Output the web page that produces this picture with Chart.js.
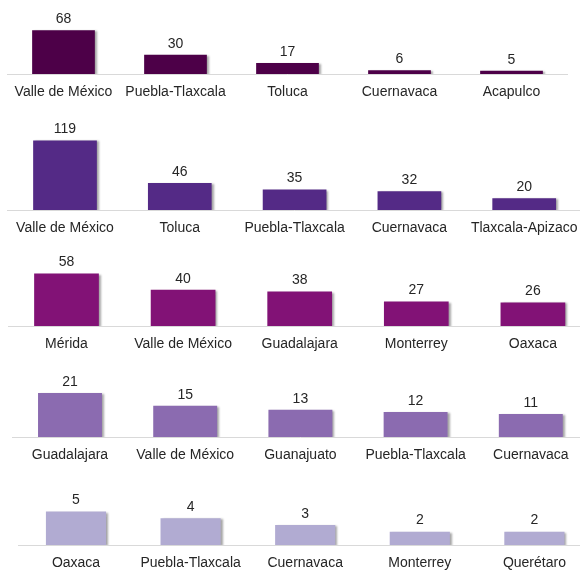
<!DOCTYPE html>
<html>
<head>
<meta charset="utf-8">
<script src="https://cdn.jsdelivr.net/npm/chart.js@4.4.1/dist/chart.umd.min.js"></script>
<style>
  html, body { margin: 0; padding: 0; background: #fff; overflow: hidden; width: 580px; height: 571px; }
  #wrap { position: relative; width: 580px; height: 571px; overflow: hidden; }
  canvas { position: absolute; left: 0; }
</style>
</head>
<body>
<div id="wrap"></div>
<script>
// data for each group (top to bottom)
const labels1 = ['Valle de México', 'Puebla-Tlaxcala', 'Toluca', 'Cuernavaca', 'Acapulco'];
const values1 = [68, 30, 17, 6, 5];

const labels2 = ['Valle de México', 'Toluca', 'Puebla-Tlaxcala', 'Cuernavaca', 'Tlaxcala-Apizaco'];
const values2 = [119, 46, 35, 32, 20];

const labels3 = ['Mérida', 'Valle de México', 'Guadalajara', 'Monterrey', 'Oaxaca'];
const values3 = [58, 40, 38, 27, 26];

const labels4 = ['Guadalajara', 'Valle de México', 'Guanajuato', 'Puebla-Tlaxcala', 'Cuernavaca'];
const values4 = [21, 15, 13, 12, 11];

const labels5 = ['Oaxaca', 'Puebla-Tlaxcala', 'Cuernavaca', 'Monterrey', 'Querétaro'];
const values5 = [5, 4, 3, 2, 2];

// layout of each row: plot left, plot width, baseline y, px per unit
const rows = [
    { labels: labels1, values: values1, color: '#4d0048', left: 7.5,  width: 560, base: 74,  ppu: 0.645, bar: 0.56 },
    { labels: labels2, values: values2, color: '#542a86', left: 7.6,  width: 574, base: 210, ppu: 0.585, bar: 0.555 },
    { labels: labels3, values: values3, color: '#821276', left: 8.2,  width: 583, base: 326, ppu: 0.905, bar: 0.555 },
    { labels: labels4, values: values4, color: '#8b6bb0', left: 12.4, width: 576, base: 437, ppu: 2.09,  bar: 0.555 },
    { labels: labels5, values: values5, color: '#b1abd2', left: 18.7, width: 573, base: 545, ppu: 6.68,  bar: 0.525 }
];

const FONT = '"Liberation Sans", Arial, sans-serif';
const TEXT = '#262626';
const plotH = 95;
const padTop = 20;
const axisH = 30;

// bar shadow + value labels
const barDecor = {
    id: 'barDecor',
    beforeDatasetsDraw(chart) {
        const ctx = chart.ctx;
        ctx.save();
        ctx.shadowColor = 'rgba(0,0,0,0.35)';
        ctx.shadowOffsetX = 2;
        ctx.shadowOffsetY = 1;
        ctx.shadowBlur = 2;
    },
    afterDatasetsDraw(chart) {
        const ctx = chart.ctx;
        ctx.restore();
        const meta = chart.getDatasetMeta(0);
        const data = chart.data.datasets[0].data;
        ctx.save();
        ctx.font = '14px ' + FONT;
        ctx.fillStyle = TEXT;
        ctx.textAlign = 'center';
        ctx.textBaseline = 'middle';
        meta.data.forEach((bar, i) => {
            ctx.fillText(String(data[i]), bar.x, bar.y - 11);
        });
        ctx.restore();
    }
};

const wrap = document.getElementById('wrap');

rows.forEach(row => {
    const canvas = document.createElement('canvas');
    const cw = 620;
    const ch = padTop + plotH + axisH;
    canvas.width = cw;
    canvas.height = ch;
    canvas.style.width = cw + 'px';
    canvas.style.height = ch + 'px';
    canvas.style.top = (row.base - plotH - padTop) + 'px';
    wrap.appendChild(canvas);

    new Chart(canvas.getContext('2d'), {
        type: 'bar',
        data: {
            labels: row.labels,
            datasets: [{
                data: row.values,
                backgroundColor: row.color,
                borderWidth: 0,
                categoryPercentage: 1,
                barPercentage: row.bar
            }]
        },
        options: {
            responsive: false,
            animation: false,
            events: [],
            layout: {
                padding: { left: row.left, right: cw - row.left - row.width, top: padTop, bottom: 0 }
            },
            plugins: {
                legend: { display: false },
                tooltip: { enabled: false }
            },
            scales: {
                x: {
                    grid: { display: false, drawTicks: false },
                    border: { display: true, color: '#d9d9d9', width: 1 },
                    ticks: {
                        font: { size: 14, family: FONT },
                        color: TEXT,
                        padding: 10,
                        maxRotation: 0,
                        minRotation: 0,
                        autoSkip: false
                    },
                    afterFit(scale) { scale.height = axisH; }
                },
                y: {
                    display: false,
                    min: 0,
                    max: plotH / row.ppu
                }
            }
        },
        plugins: [barDecor]
    });
});
</script>
</body>
</html>
